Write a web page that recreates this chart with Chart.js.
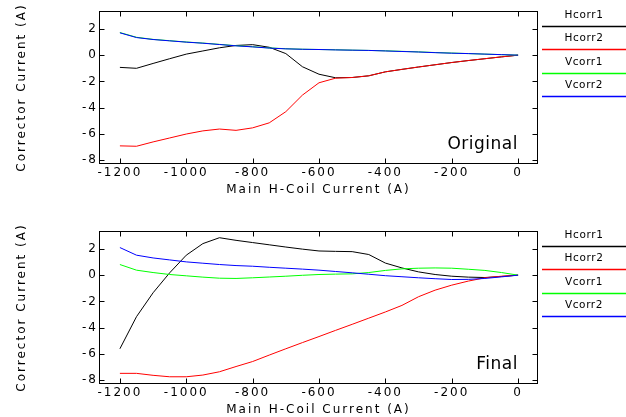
<!DOCTYPE html>
<html>
<head>
<meta charset="utf-8">
<script src="https://cdn.jsdelivr.net/npm/chart.js@4.4.1/dist/chart.umd.min.js"></script>
<style>
  body { margin: 0; background: #fff; width: 626px; height: 417px; overflow: hidden; position: relative; }
  .plot { position: absolute; left: 0; width: 626px; height: 197px; }
  #top { top: 0; }
  #bottom { top: 220px; }
</style>
</head>
<body>
<div class="plot" id="top"><canvas id="original" width="626" height="197"></canvas></div>
<div class="plot" id="bottom"><canvas id="final" width="626" height="197"></canvas></div>
<script>
// main H-coil current (A)
const amps = [-1200, -1150, -1100, -1050, -1000, -950, -900, -850, -800, -750, -700, -650, -600,
  -550, -500, -450, -400, -350, -300, -250, -200, -150, -100, -50, 0];

const seriesNames = ["Hcorr1", "Hcorr2", "Vcorr1", "Vcorr2"];
const seriesColors = ["#000000", "#ff0000", "#00ff00", "#0000ff"];

// Original corrector currents (A)
const hcorr1Orig = [-0.93, -1.0, -0.63, -0.27, 0.08, 0.32, 0.56, 0.74, 0.80, 0.6, 0.12, -0.88, -1.45,
  -1.72, -1.70, -1.57, -1.27, -1.08, -0.9, -0.73, -0.56, -0.41, -0.27, -0.13, 0];
const hcorr2Orig = [-6.9, -6.93, -6.6, -6.3, -6.0, -5.76, -5.62, -5.72, -5.53, -5.15, -4.3, -3.04, -2.1,
  -1.75, -1.70, -1.57, -1.27, -1.08, -0.9, -0.73, -0.56, -0.41, -0.27, -0.13, 0];
const vcorr1Orig = [1.72, 1.36, 1.2, 1.1, 1.0, 0.92, 0.82, 0.72, 0.64, 0.55, 0.49, 0.45, 0.43,
  0.41, 0.38, 0.36, 0.33, 0.29, 0.25, 0.20, 0.16, 0.12, 0.08, 0.04, 0];
const vcorr2Orig = [1.7, 1.34, 1.19, 1.09, 0.99, 0.91, 0.81, 0.71, 0.63, 0.54, 0.48, 0.45, 0.43,
  0.40, 0.38, 0.36, 0.32, 0.28, 0.24, 0.19, 0.15, 0.12, 0.08, 0.04, 0];

// Final corrector currents (A)
const hcorr1Final = [-5.6, -3.16, -1.34, 0.18, 1.52, 2.4, 2.85, 2.65, 2.48, 2.31, 2.14, 1.98, 1.84,
  1.81, 1.79, 1.57, 0.92, 0.55, 0.25, 0.05, -0.08, -0.15, -0.18, -0.1, 0];
const hcorr2Final = [-7.47, -7.47, -7.62, -7.73, -7.73, -7.6, -7.35, -6.95, -6.57, -6.08, -5.6, -5.13, -4.67,
  -4.2, -3.74, -3.27, -2.8, -2.3, -1.64, -1.14, -0.76, -0.45, -0.2, -0.08, 0];
const vcorr1Final = [0.81, 0.38, 0.2, 0.05, -0.05, -0.15, -0.23, -0.25, -0.2, -0.14, -0.08, -0.01, 0.05,
  0.08, 0.1, 0.2, 0.36, 0.48, 0.53, 0.55, 0.53, 0.45, 0.36, 0.2, 0];
const vcorr2Final = [2.1, 1.52, 1.31, 1.16, 1.01, 0.91, 0.81, 0.73, 0.68, 0.6, 0.53, 0.46, 0.38,
  0.28, 0.18, 0.07, -0.04, -0.12, -0.2, -0.27, -0.33, -0.32, -0.25, -0.13, 0];

const xTicks = [-1200, -1000, -800, -600, -400, -200, 0];
const yTicks = [-8, -6, -4, -2, 0, 2];

const FONT = "'DejaVu Sans', sans-serif";

// frame with inward ticks, legend on the right, panel name in the corner
const framePlugin = {
  id: "frame",
  beforeDraw(chart) {
    chart.ctx.letterSpacing = "2px";
  },
  afterDraw(chart, args, opts) {
    const { ctx, chartArea: a, scales } = chart;
    ctx.save();
    ctx.strokeStyle = "#000";
    ctx.lineWidth = 1;
    const L = Math.round(a.left) + 0.5, R = Math.round(a.right) - 0.5;
    const T = Math.round(a.top) + 0.5, B = Math.round(a.bottom) - 0.5;
    ctx.strokeRect(L, T, R - L, B - T);

    ctx.beginPath();
    scales.x.ticks.forEach(t => {
      const px = Math.round(scales.x.getPixelForValue(t.value)) + 0.5;
      ctx.moveTo(px, B); ctx.lineTo(px, B - 5);
      ctx.moveTo(px, T); ctx.lineTo(px, T + 5);
    });
    scales.y.ticks.forEach(t => {
      const py = Math.round(scales.y.getPixelForValue(t.value)) + 0.5;
      ctx.moveTo(L, py); ctx.lineTo(L + 5, py);
      ctx.moveTo(R, py); ctx.lineTo(R - 5, py);
    });
    ctx.stroke();

    // legend: name above a line sample
    const x0 = a.right + 4, x1 = chart.width;
    ctx.letterSpacing = "0.6px";
    ctx.font = "10.5px " + FONT;
    ctx.textAlign = "center";
    ctx.textBaseline = "middle";
    chart.data.datasets.forEach((ds, i) => {
      const y = Math.round(a.top + 15 + i * 23.4);
      ctx.strokeStyle = ds.borderColor;
      ctx.lineWidth = 1.4;
      ctx.beginPath();
      ctx.moveTo(x0, y + 0.5); ctx.lineTo(x1, y + 0.5);
      ctx.stroke();
      ctx.fillStyle = "#000";
      ctx.fillText(ds.label, (x0 + x1) / 2, y - 11);
    });

    // panel name
    ctx.letterSpacing = "0.5px";
    ctx.font = "17px " + FONT;
    ctx.textAlign = "right";
    ctx.textBaseline = "alphabetic";
    ctx.fillText(opts.name, a.right - 20, a.bottom - 14.7);
    ctx.restore();
  }
};

function makeChart(id, name, series) {
  const ctx = document.getElementById(id).getContext("2d");
  const datasets = series.map((vals, i) => ({
    label: seriesNames[i],
    data: amps.map((x, j) => ({ x: x, y: vals[j] })),
    borderColor: seriesColors[i],
    backgroundColor: seriesColors[i],
    borderWidth: 1,
    pointRadius: 0,
    tension: 0,
    order: series.length - 1 - i
  }));

  return new Chart(ctx, {
    type: "line",
    data: { datasets: datasets },
    options: {
      responsive: false,
      animation: false,
      events: [],
      layout: { padding: { top: 11, right: 88, bottom: 0, left: 0 } },
      plugins: {
        legend: { display: false },
        tooltip: { enabled: false },
        frame: { name: name }
      },
      scales: {
        x: {
          type: "linear",
          min: -1263,
          max: 60,
          afterBuildTicks: scale => { scale.ticks = xTicks.map(v => ({ value: v })); },
          afterFit: scale => { scale.height = 33; },
          grid: { display: false, drawTicks: false },
          border: { display: false },
          ticks: {
            color: "#000",
            font: { family: FONT, size: 12 },
            padding: 2,
            maxRotation: 0,
            callback: v => String(v)
          },
          title: {
            display: true,
            text: "Main H-Coil Current (A)",
            color: "#000",
            font: { family: FONT, size: 12 },
            padding: { top: 0, bottom: 0 }
          }
        },
        y: {
          type: "linear",
          min: -8.28,
          max: 3.36,
          afterBuildTicks: scale => { scale.ticks = yTicks.map(v => ({ value: v })); },
          afterFit: scale => { scale.width = 99; },
          grid: { display: false, drawTicks: false },
          border: { display: false },
          ticks: {
            color: "#000",
            font: { family: FONT, size: 12 },
            padding: 1,
            callback: v => String(v)
          },
          title: {
            display: true,
            text: "Corrector Current (A)",
            color: "#000",
            font: { family: FONT, size: 12 },
            padding: { top: 14.5, bottom: 0 }
          }
        }
      }
    },
    plugins: [framePlugin]
  });
}

makeChart("original", "Original", [hcorr1Orig, hcorr2Orig, vcorr1Orig, vcorr2Orig]);
makeChart("final", "Final", [hcorr1Final, hcorr2Final, vcorr1Final, vcorr2Final]);
</script>
</body>
</html>
